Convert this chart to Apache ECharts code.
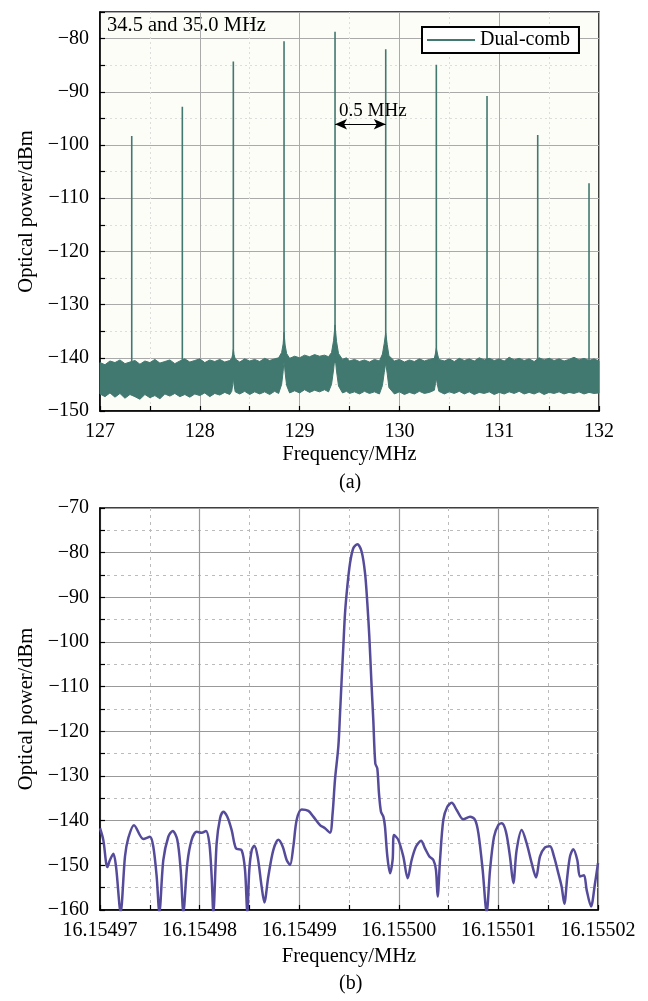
<!DOCTYPE html>
<html>
<head>
<meta charset="utf-8">
<script src="https://cdn.jsdelivr.net/npm/echarts@6/dist/echarts.min.js"></script>
<style>
  html, body { margin: 0; padding: 0; background: #fff; }
  #main { width: 648px; height: 1001px; }
</style>
</head>
<body>
<div id="main"></div>
<script>
// (a) dual-comb spectrum: comb lines + noise floor envelope
const peakFreq = [127.318, 127.825, 128.336, 128.844, 129.355, 129.863, 130.370, 130.878, 131.386, 131.900];
const peakLevel = [-98.3, -92.8, -84.3, -80.5, -78.7, -82.0, -84.9, -90.8, -98.1, -107.2];

const noiseFreq = [
  127.00, 127.05, 127.10, 127.15, 127.20, 127.25, 127.30, 127.35, 127.40, 127.45,
  127.50, 127.55, 127.60, 127.65, 127.70, 127.75, 127.80, 127.85, 127.90, 127.95,
  128.00, 128.05, 128.10, 128.15, 128.20, 128.25, 128.30, 128.32, 128.33, 128.336,
  128.343, 128.355, 128.40, 128.45, 128.50, 128.55, 128.60, 128.65, 128.70, 128.75,
  128.79, 128.82, 128.835, 128.844, 128.855, 128.87, 128.90, 128.95, 129.00, 129.05,
  129.10, 129.15, 129.20, 129.25, 129.29, 129.32, 129.34, 129.355, 129.37, 129.39,
  129.43, 129.47, 129.50, 129.55, 129.60, 129.65, 129.70, 129.75, 129.80, 129.83,
  129.848, 129.863, 129.878, 129.895, 129.95, 130.00, 130.05, 130.10, 130.15, 130.20,
  130.25, 130.30, 130.35, 130.362, 130.37, 130.38, 130.395, 130.45, 130.50, 130.55,
  130.60, 130.65, 130.70, 130.75, 130.80, 130.85, 130.90, 130.95, 131.00, 131.05,
  131.10, 131.15, 131.20, 131.25, 131.30, 131.35, 131.40, 131.45, 131.50, 131.55,
  131.60, 131.65, 131.70, 131.75, 131.80, 131.85, 131.90, 131.95, 132.00
];
const noiseTop = [
  -140.9, -141.3, -140.6, -140.9, -140.4, -141.1, -140.8, -140.5, -141.2, -140.6,
  -140.9, -140.3, -141.0, -140.7, -140.4, -141.1, -140.6, -140.2, -140.8, -140.5,
  -140.2, -140.9, -140.4, -140.7, -140.3, -140.8, -140.5, -140.1, -139.3, -138.4,
  -139.4, -140.2, -140.8, -140.2, -140.6, -140.3, -140.7, -140.1, -140.5, -140.2,
  -140.0, -139.0, -137.4, -135.2, -137.6, -139.2, -140.1, -139.7, -140.0, -139.5,
  -139.8, -139.4, -139.7, -139.5, -139.8, -139.0, -136.8, -133.8, -136.9, -139.2,
  -140.3, -140.0, -140.6, -140.3, -140.7, -140.4, -140.8, -140.3, -140.6, -139.3,
  -137.3, -135.3, -137.5, -139.6, -140.6, -140.3, -140.8, -140.4, -140.7, -140.2,
  -140.6, -140.3, -140.1, -139.1, -138.2, -139.1, -140.3, -140.6, -140.2, -140.7,
  -140.1, -140.5, -140.2, -140.6, -140.0, -140.4, -140.1, -140.5, -140.2, -140.6,
  -139.9, -140.4, -140.1, -140.5, -140.2, -140.7, -140.0, -140.4, -140.1, -140.5,
  -140.2, -140.6, -140.3, -139.9, -140.4, -140.1, -140.5, -140.2, -140.6
];
const noiseBottom = [
  -146.8, -147.3, -146.6, -147.4, -146.7, -147.6, -146.9, -147.3, -147.8, -146.9,
  -147.5, -147.1, -147.7, -146.8, -147.2, -146.7, -147.3, -146.9, -147.4, -146.8,
  -147.1, -146.6, -147.3, -146.7, -147.0, -146.5, -146.9, -146.3, -145.0, -143.6,
  -145.1, -146.4, -146.8, -146.3, -146.9, -146.4, -146.8, -146.4, -146.9, -146.3,
  -146.7, -145.0, -142.6, -140.4, -142.8, -145.2, -146.6, -146.2, -146.6, -146.0,
  -146.5, -146.1, -146.4, -146.0, -146.4, -145.0, -142.3, -139.7, -142.5, -145.3,
  -146.6, -146.3, -146.7, -146.4, -146.8, -146.3, -146.7, -146.4, -146.8, -145.2,
  -142.8, -141.0, -143.0, -145.6, -146.8, -146.4, -146.9, -146.5, -146.8, -146.3,
  -146.7, -146.5, -146.1, -144.8, -143.8, -145.0, -146.3, -146.8, -146.4, -146.7,
  -146.3, -146.8, -146.4, -146.9, -146.5, -146.7, -146.4, -146.9, -146.5, -146.8,
  -146.4, -146.7, -146.3, -146.8, -146.5, -146.8, -146.4, -146.9, -146.5, -146.7,
  -146.4, -146.8, -146.5, -146.7, -146.4, -146.8, -146.5, -146.7, -146.6
];

// (b) single line, offsets in Hz from 16.15497 MHz
const lineStartMHz = 16.15497;
const lineOffsetHz = [
  0.00, 0.33, 0.74, 1.00, 1.34, 1.61, 2.07, 2.51, 2.84, 3.41,
  4.35, 5.02, 5.35, 5.69, 5.96, 6.36, 6.86, 7.30, 7.76, 8.10,
  8.37, 8.77, 9.20, 9.71, 10.21, 10.64, 10.98, 11.21, 11.38, 11.71,
  12.05, 12.38, 12.78, 13.22, 13.65, 14.22, 14.56, 14.79, 14.99, 15.23,
  15.49, 15.83, 16.23, 16.50, 16.90, 17.40, 17.90, 18.34, 18.74, 19.08,
  19.41, 19.75, 20.25, 20.92, 21.42, 22.09, 22.59, 23.09, 23.35, 23.59,
  23.93, 24.10, 24.26, 24.43, 24.60, 24.83, 25.10, 25.43, 25.84, 26.27,
  26.61, 26.84, 27.04, 27.24, 27.44, 27.64, 27.84, 28.01, 28.21, 28.45,
  28.61, 28.85, 29.12, 29.38, 29.52, 29.95, 30.45, 30.89, 31.29, 31.73,
  32.23, 32.63, 33.07, 33.47, 33.73, 33.90, 34.14, 34.47, 34.87, 35.31,
  35.81, 36.48, 37.15, 37.65, 37.99, 38.42, 38.82, 39.16, 39.56, 39.99,
  40.33, 40.76, 41.16, 41.50, 41.83, 42.34, 42.84, 43.34, 43.78, 44.18,
  44.68, 45.18, 45.58, 46.02, 46.35, 46.62, 46.92, 47.19, 47.52, 47.92,
  48.19, 48.59, 48.86, 49.30, 49.70, 50.00
];
const linePower = [
  -141.7, -144.3, -150.4, -148.8, -147.4, -150.3, -160.5, -148.0, -143.9, -141.0,
  -144.1, -143.6, -145.8, -152.5, -160.5, -148.8, -143.6, -142.3, -144.3, -151.0,
  -160.5, -149.5, -144.3, -142.5, -142.7, -142.3, -145.1, -152.5, -160.5, -145.1,
  -139.5, -138.0, -139.1, -142.1, -146.2, -146.6, -151.0, -160.5, -151.0, -146.6,
  -145.6, -148.1, -154.8, -158.3, -152.5, -146.6, -144.3, -145.8, -148.8, -149.9,
  -145.8, -139.8, -137.5, -137.8, -139.1, -141.0, -141.7, -142.7, -138.5, -130.9,
  -123.4, -116.0, -108.5, -101.0, -93.6, -87.6, -82.4, -79.0, -78.1, -79.8,
  -84.6, -91.3, -98.8, -108.5, -117.5, -127.2, -128.3, -133.9, -138.0, -139.1,
  -141.3, -148.0, -151.8, -148.8, -143.2, -144.3, -148.0, -152.9, -148.8, -145.8,
  -144.5, -146.2, -148.0, -148.8, -151.0, -157.0, -148.8, -139.8, -136.9, -136.0,
  -137.6, -139.7, -139.1, -139.8, -142.8, -151.0, -160.5, -151.0, -143.6, -141.0,
  -140.6, -142.5, -148.0, -154.0, -146.6, -142.1, -145.1, -149.5, -152.7, -148.0,
  -146.0, -145.7, -148.0, -151.8, -154.8, -158.6, -152.5, -148.0, -146.4, -148.8,
  -152.5, -152.2, -155.5, -159.2, -154.0, -149.5
];

const teal = "#41786f";
const purple = "#554b9b";
const serif = "'Liberation Serif', 'Times New Roman', serif";
const minus = (v) => String(v).replace("-", "\u2212");

var myChart = echarts.init(document.getElementById("main"));

function frameAxis(extra) {
  return Object.assign(
    {
      type: "value",
      axisLine: { show: true, onZero: false, lineStyle: { color: "#000", width: 1.5 } },
      axisTick: { show: true, inside: true, length: 5, lineStyle: { color: "#000", width: 1.2 } },
      minorTick: { show: true, splitNumber: 2, length: 5, lineStyle: { color: "#000", width: 1.2 } },
      axisLabel: { color: "#000", fontFamily: serif, fontSize: 20, margin: 11, formatter: minus },
      nameTextStyle: { color: "#000", fontFamily: serif, fontSize: 20.5 },
      nameLocation: "middle",
    },
    extra
  );
}

const peakSeries = peakFreq.map(function (f, i) {
  return {
    name: "Dual-comb",
    type: "line",
    xAxisIndex: 0,
    yAxisIndex: 0,
    symbol: "none",
    silent: true,
    z: 4,
    itemStyle: { color: teal },
    lineStyle: { color: teal, width: 1.6 },
    data: [[f, -141], [f, peakLevel[i]]],
  };
});
// double arrow between two neighbouring comb lines
peakSeries[0].markLine = {
  silent: true,
  symbol: ["arrow", "arrow"],
  symbolSize: [8, 12],
  lineStyle: { color: "#000", width: 1.2, type: "solid" },
  label: {
    show: true,
    position: "insideStartTop",
    formatter: "0.5 MHz",
    color: "#000",
    fontFamily: serif,
    fontSize: 19,
    distance: 4,
  },
  data: [[{ coord: [peakFreq[4], -96.1] }, { coord: [peakFreq[5], -96.1] }]],
};

// noise floor drawn as one filled band between the two envelopes
const noiseSeries = {
  name: "noise",
  type: "custom",
  coordinateSystem: "cartesian2d",
  xAxisIndex: 0,
  yAxisIndex: 0,
  silent: true,
  z: 3,
  encode: { x: 0, y: [1, 2] },
  data: noiseFreq.map((f, i) => [f, noiseTop[i], noiseBottom[i]]),
  renderItem: function (params, api) {
    if (params.dataIndex !== 0) return null;
    var pts = [];
    for (var i = 0; i < noiseFreq.length; i++) pts.push(api.coord([noiseFreq[i], noiseTop[i]]));
    for (var j = noiseFreq.length - 1; j >= 0; j--) pts.push(api.coord([noiseFreq[j], noiseBottom[j]]));
    return {
      type: "polygon",
      shape: { points: pts },
      style: { fill: teal, stroke: teal, lineWidth: 1 },
    };
  },
};

var option = {
  animation: false,
  backgroundColor: "#fff",
  grid: [
    { left: 100, top: 12, width: 499, height: 399, show: true, backgroundColor: "#fdfdf8", borderColor: "#000", borderWidth: 1.5 },
    { left: 100, top: 508, width: 498, height: 402, show: true, backgroundColor: "#fff", borderColor: "#000", borderWidth: 1.5 },
  ],
  legend: {
    data: ["Dual-comb"],
    left: 422,
    top: 27,
    icon: "rect",
    itemWidth: 48,
    itemHeight: 2,
    itemGap: 6,
    padding: [3, 9, 3, 5],
    backgroundColor: "#fff",
    borderColor: "#000",
    borderWidth: 2,
    textStyle: { color: "#000", fontFamily: serif, fontSize: 20 },
  },
  graphic: [
    { type: "text", left: 107, top: 15, style: { text: "34.5 and 35.0 MHz", font: "20.5px " + serif, fill: "#000" } },
    { type: "text", left: 339, top: 473, style: { text: "(a)", font: "20px " + serif, fill: "#000" } },
    { type: "text", left: 339, top: 974, style: { text: "(b)", font: "20px " + serif, fill: "#000" } },
  ],
  xAxis: [
    frameAxis({
      gridIndex: 0,
      min: 127,
      max: 132,
      interval: 1,
      name: "Frequency/MHz",
      nameGap: 33,
      splitLine: { show: true, lineStyle: { color: "#aaa", width: 1 } },
      minorSplitLine: { show: true, lineStyle: { color: "#ddd", width: 1, type: [2, 3] } },
    }),
    frameAxis({
      gridIndex: 1,
      min: 16.15497,
      max: 16.15502,
      interval: 0.00001,
      name: "Frequency/MHz",
      nameGap: 36,
      axisLabel: { color: "#000", fontFamily: serif, fontSize: 20, margin: 11, formatter: (v) => v.toFixed(5) },
      splitLine: { show: true, lineStyle: { color: "#999", width: 1.2 } },
      minorSplitLine: { show: true, lineStyle: { color: "#bbb", width: 1, type: [3, 4] } },
    }),
  ],
  yAxis: [
    frameAxis({
      gridIndex: 0,
      min: -150,
      max: -75,
      interval: 10,
      name: "Optical power/dBm",
      nameGap: 61,
      axisLabel: { color: "#000", fontFamily: serif, fontSize: 20, margin: 11, formatter: minus, showMaxLabel: false },
      splitLine: { show: true, lineStyle: { color: "#aaa", width: 1 } },
      minorSplitLine: { show: true, lineStyle: { color: "#ddd", width: 1, type: [2, 3] } },
    }),
    frameAxis({
      gridIndex: 1,
      min: -160,
      max: -70,
      interval: 10,
      name: "Optical power/dBm",
      nameGap: 61,
      splitLine: { show: true, lineStyle: { color: "#999", width: 1.2 } },
      minorSplitLine: { show: true, lineStyle: { color: "#bbb", width: 1, type: [3, 4] } },
    }),
  ],
  series: [noiseSeries]
    .concat(peakSeries)
    .concat([
      {
        name: "line",
        type: "line",
        xAxisIndex: 1,
        yAxisIndex: 1,
        symbol: "none",
        smooth: 0.3,
        silent: true,
        clip: true,
        lineStyle: { color: purple, width: 2.5 },
        data: lineOffsetHz.map((u, i) => [lineStartMHz + u / 1e6, linePower[i]]),
      },
    ]),
};

myChart.setOption(option);
</script>
</body>
</html>
